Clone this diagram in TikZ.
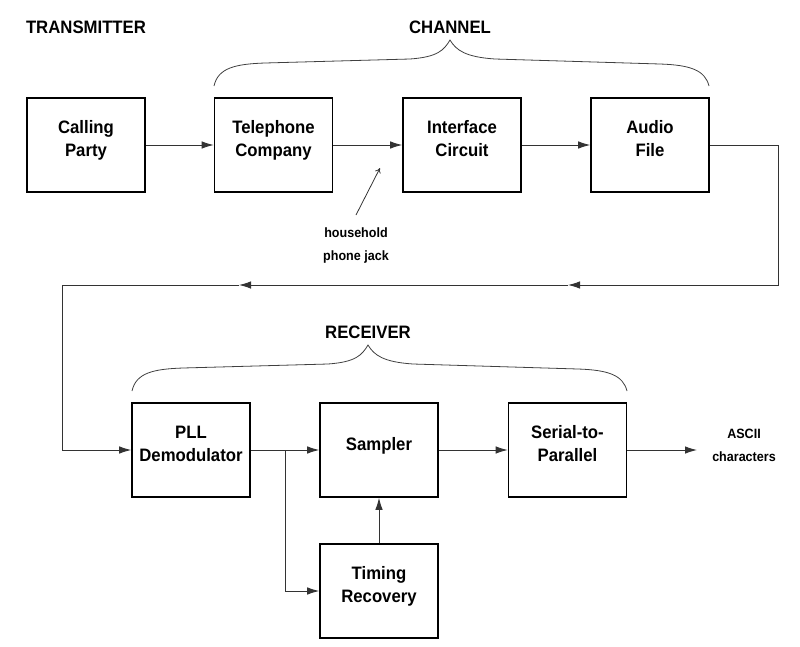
\documentclass[tikz,border=0pt]{standalone}
\usepackage{fontspec}
\setmainfont{Liberation Sans}[FakeStretch=0.93]
\usetikzlibrary{arrows.meta}
\begin{document}
\begin{tikzpicture}[x=1pt,y=-1pt,
  blk/.style={draw=black, line width=1.6pt, minimum width=118pt, minimum height=94pt, inner sep=0pt},
  txt/.style={font=\bfseries\fontsize{18}{23}\selectfont, align=center, inner sep=0pt},
  btxt/.style={txt, text depth=3.8pt},
  small/.style={font=\bfseries\fontsize{13.5}{23}\selectfont, align=center, inner sep=0pt},
  conn/.style={draw=black!80, line width=0.9pt},
  arr/.style={conn, -{Latex[length=12pt,width=7.5pt]}},
  brace/.style={draw=black!75, line width=0.8pt},
  pics/curly/.style={code={
    \draw[brace] (214,86) .. controls (218,68) and (235,64) .. (265,63) -- (410,59)
      .. controls (438,57) and (444,50) .. (450,40)
      .. controls (456,50) and (465,57) .. (495,59) -- (660,64)
      .. controls (690,65) and (705,70) .. (709,86);
  }}]
\useasboundingbox (0,0) rectangle (800,646);

% titles
\node[txt] (ttx) at (86,27) {TRANSMITTER};
\node[txt] (tch) at (450,27) {CHANNEL};
\node[txt] (trc) at (368,332) {RECEIVER};

% braces
\pic (bch) at (0,0) {curly};
\pic (brc) at (-82,305) {curly};

% top row boxes
\node[blk] (cp) at (86,145) {};
\node[blk] (tc) at (273.5,145) {};
\node[blk] (ic) at (462,145) {};
\node[blk] (af) at (650,145) {};
\node[btxt] (cpt) at (86,140.4) {Calling\\Party};
\node[btxt] (tct) at (273.5,140.4) {Telephone\\Company};
\node[btxt] (ict) at (462,140.4) {Interface\\Circuit};
\node[btxt] (aft) at (650,140.4) {Audio\\File};

% bottom boxes
\node[blk] (pll) at (191,450) {};
\node[blk] (smp) at (379,450) {};
\node[blk] (sp) at (567.5,450) {};
\node[blk] (tr) at (379,591) {};
\node[btxt] (pllt) at (191,445.4) {PLL\\Demodulator};
\node[btxt] (smpt) at (379,445.4) {Sampler};
\node[btxt] (spt) at (567.5,445.4) {Serial-to-\\Parallel};
\node[btxt] (trt) at (379,586.4) {Timing\\Recovery};

% small labels
\node[small] (hj) at (356,245.5) {household\\phone jack};
\node[small] (asc) at (744,445) {ASCII\\characters};

% top connectors
\draw[arr] (cp) -- (tc);
\draw[arr] (tc) -- (ic);
\draw[arr] (ic) -- (af);

% household jack pointer
\coordinate (hjs) at (356,215);
\coordinate (hje) at (380,168);
\draw[draw=black!80, line width=0.8pt, -{To[length=5pt,width=6pt]}] (hjs) -- (hje);

% feedback path
\coordinate (c1) at (778,145);
\coordinate (c2) at (778,285);
\coordinate (m1) at (568,285);
\coordinate (m2) at (239,285);
\coordinate (c3) at (62,285);
\draw[arr] (af.east) -- (c1) -- (c2) -- (m1);
\draw[arr] (m1) -- (m2);
\draw[arr] (m2) -- (c3) |- (pll.west);

% bottom connectors
\coordinate (br) at (285,450);
\draw[arr] (pll) -- (smp);
\draw[arr] (br) |- (tr.west);
\draw[arr] (tr) -- (smp);
\draw[arr] (smp) -- (sp);
\coordinate (out) at (697,450);
\draw[arr] (sp.east) -- (out);
\end{tikzpicture}
\end{document}
